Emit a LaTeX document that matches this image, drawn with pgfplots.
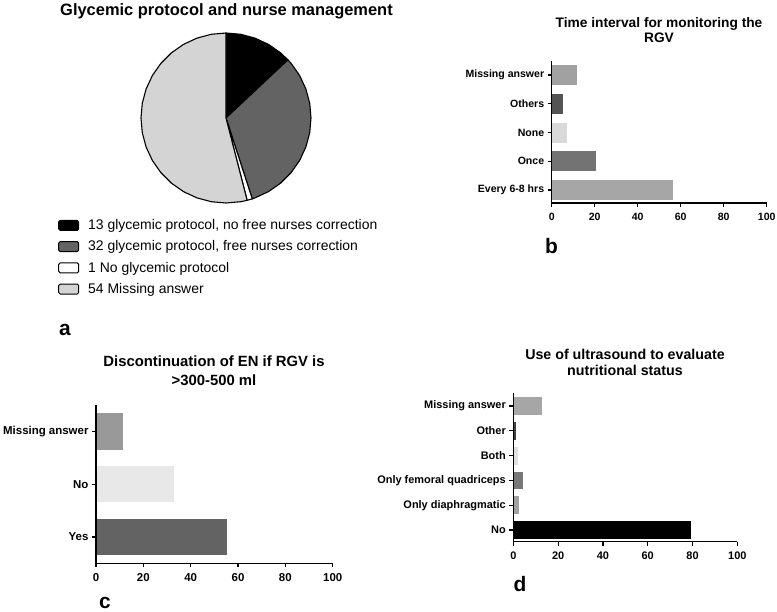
\documentclass[border=0pt]{standalone}
\usepackage{fontspec}
\setmainfont{Liberation Sans}
\usepackage{pgfplots}
\pgfplotsset{compat=1.18}

\definecolor{pDark}{HTML}{636363}
\definecolor{pLight}{HTML}{D4D4D4}

\pgfplotsset{
  gp/.style={
    scale only axis, axis on top,
    axis lines*=left,
    xmin=0, xmax=100, xtick={0,20,...,100},
    tick align=outside, tickpos=left,
    major tick length=4bp,
    axis line style={line width=1.3bp, black},
    every tick/.style={line width=1.2bp, black},
    /pgf/number format/assume math mode=true,
    xticklabel style={yshift=-2.5bp},
    clip=false,
  },
  gpbar/.style={xbar, bar shift=0pt, draw=none},
}

\begin{document}
\begin{tikzpicture}
\path[use as bounding box] (0,0) rectangle (777bp,-612bp);

% ---------- (a) pie ----------
\begin{axis}[
  at={(226bp,-118bp)}, anchor=center,
  scale only axis, width=170bp, height=170bp,
  xmin=-1, xmax=1, ymin=-1, ymax=1,
  hide axis, clip=false,
  legend cell align=left,
  legend image code/.code={\draw[#1, line width=1bp, rounded corners=1.5bp] (0bp,-5bp) rectangle (20bp,5bp);},
  legend style={at={(-0.488,-0.085)}, anchor=north west, draw=none, fill=none,
    inner sep=0pt, row sep=5.6bp,
    font=\fontsize{14}{16}\selectfont},
]
\addplot[data cs=polar, fill=black, draw=black, line width=1.1bp, line join=round]
 coordinates {(0,0) (90,1) (80,1) (70,1) (60,1) (50,1) (43.2,1) (0,0)};
\addlegendentry{\hspace{7bp}13 glycemic protocol, no free nurses correction}
\addplot[data cs=polar, fill=pDark, draw=black, line width=1.1bp, line join=round]
 coordinates {(0,0) (43.2,1) (40,1) (30,1) (20,1) (10,1) (0,1) (-10,1) (-20,1) (-30,1) (-40,1) (-50,1) (-60,1) (-70,1) (-72,1) (0,0)};
\addlegendentry{\hspace{7bp}32 glycemic protocol, free nurses correction}
\addplot[data cs=polar, fill=white, draw=black, line width=1.1bp, line join=round]
 coordinates {(0,0) (-72,1) (-73.8,1) (-75.6,1) (0,0)};
\addlegendentry{\hspace{7bp}1 No glycemic protocol}
\addplot[data cs=polar, fill=pLight, draw=black, line width=1.1bp, line join=round]
 coordinates {(0,0) (-75.6,1) (-80,1) (-90,1) (-100,1) (-110,1) (-120,1) (-130,1) (-140,1) (-150,1) (-160,1) (-170,1) (-180,1) (-190,1) (-200,1) (-210,1) (-220,1) (-230,1) (-240,1) (-250,1) (-260,1) (-270,1) (0,0)};
\addlegendentry{\hspace{7bp}54 Missing answer}
\end{axis}

% ---------- (b) ----------
\begin{axis}[gp,
  at={(551.7bp,-203bp)}, anchor=south west,
  width=215bp, height=142.3bp,
  ymin=-0.45, ymax=4.5,
  ytick={0,...,4},
  yticklabels={Every 6-8 hrs, Once, None, Others, Missing answer},
  ticklabel style={font=\bfseries\fontsize{10.6}{12}\selectfont},
]
\addplot[gpbar, bar width=0.7, fill=black!35] coordinates {(56.6,0)};
\addplot[gpbar, bar width=0.7, fill=black!55] coordinates {(20.5,1)};
\addplot[gpbar, bar width=0.7, fill=black!15] coordinates {(7.3,2)};
\addplot[gpbar, bar width=0.7, fill=black!67] coordinates {(5.4,3)};
\addplot[gpbar, bar width=0.7, fill=black!37] coordinates {(11.6,4)};
\end{axis}

% ---------- (c) ----------
\begin{axis}[gp,
  at={(96bp,-563.3bp)}, anchor=south west,
  width=236.7bp, height=158.3bp,
  ymin=-0.5, ymax=2.5,
  ytick={0,1,2},
  yticklabels={Yes, No, Missing answer},
  ticklabel style={font=\bfseries\fontsize{11.5}{13}\selectfont},
]
\addplot[gpbar, bar width=0.69, fill=black!61] coordinates {(55.2,0)};
\addplot[gpbar, bar width=0.69, fill=black!9] coordinates {(33.1,1)};
\addplot[gpbar, bar width=0.69, fill=black!40] coordinates {(11.3,2)};
\end{axis}

% ---------- (d) ----------
\begin{axis}[gp,
  at={(513.3bp,-541.7bp)}, anchor=south west,
  width=224bp, height=149bp,
  ymin=-0.47, ymax=5.54,
  ytick={0,...,5},
  yticklabels={No, Only diaphragmatic, Only femoral quadriceps, Both, Other, Missing answer},
  ticklabel style={font=\bfseries\fontsize{11}{13}\selectfont},
]
\addplot[gpbar, bar width=0.72, fill=black] coordinates {(79.3,0)};
\addplot[gpbar, bar width=0.72, fill=black!37] coordinates {(2.6,1)};
\addplot[gpbar, bar width=0.72, fill=black!53] coordinates {(4.5,2)};
\addplot[gpbar, bar width=0.72, fill=black!12] coordinates {(2.2,3)};
\addplot[gpbar, bar width=0.72, fill=black!75] coordinates {(1.2,4)};
\addplot[gpbar, bar width=0.72, fill=black!35] coordinates {(12.6,5)};
\end{axis}

% ---------- titles ----------
\node[anchor=base, font=\bfseries\fontsize{16.5}{18}\selectfont] at (226.5bp,-15bp) {Glycemic protocol and nurse management};
\node[align=center, anchor=north, font=\bfseries\fontsize{13.8}{15}\selectfont, inner sep=0pt] at (659bp,-17bp) {Time interval for monitoring the\\RGV};
\node[align=center, anchor=north, font=\bfseries\fontsize{14.9}{19}\selectfont, inner sep=0pt] at (214bp,-356bp) {Discontinuation of EN if RGV is\\>300-500 ml};
\node[align=center, anchor=north, font=\bfseries\fontsize{14.3}{16}\selectfont, inner sep=0pt] at (625bp,-349bp) {Use of ultrasound to evaluate\\nutritional status};

% ---------- panel letters ----------
\node[anchor=base, font=\bfseries\fontsize{21}{23}\selectfont, inner sep=0pt] at (65bp,-335bp) {a};
\node[anchor=base, font=\bfseries\fontsize{21}{23}\selectfont, inner sep=0pt] at (551.5bp,-253bp) {b};
\node[anchor=base, font=\bfseries\fontsize{21}{23}\selectfont, inner sep=0pt] at (105bp,-608bp) {c};
\node[anchor=base, font=\bfseries\fontsize{21}{23}\selectfont, inner sep=0pt] at (520bp,-591.7bp) {d};
\end{tikzpicture}
\end{document}
